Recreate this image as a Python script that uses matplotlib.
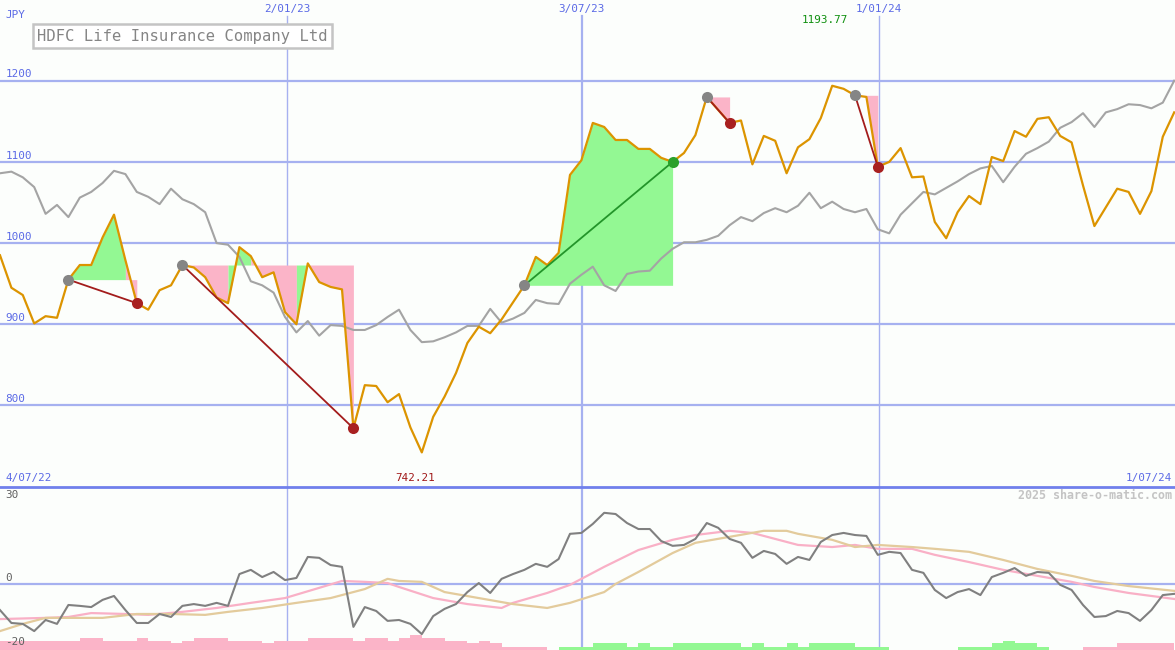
import numpy as np
import matplotlib.pyplot as plt

# weekly closing prices (JPY), one value per week
price = [985, 945, 936, 901, 910, 908, 955, 973, 973, 1007,
         1035, 979, 926, 918, 942, 948, 973, 970, 958, 933,
         926, 995, 984, 958, 964, 915, 900, 975, 952, 946,
         943, 772, 825, 824, 804, 814, 773, 742.21, 786, 811,
         840, 877, 897, 889, 906, 927, 948, 983, 973, 988,
         1084, 1102, 1148, 1143, 1127, 1127, 1116, 1116, 1105, 1100,
         1111, 1133, 1180, 1164, 1148, 1151, 1097, 1132, 1126, 1086,
         1118, 1128, 1154, 1193.77, 1190, 1182, 1180, 1094, 1100, 1117,
         1081, 1082, 1026, 1006, 1038, 1058, 1048, 1106, 1101, 1138,
         1131, 1153, 1155, 1132, 1124, 1071, 1021, 1044, 1067, 1063,
         1036, 1064, 1131, 1161]

# comparison index, rescaled to the price axis
relative = [1086, 1088, 1081, 1069, 1036, 1047, 1032, 1056, 1063, 1074,
            1089, 1085, 1063, 1057, 1048, 1067, 1054, 1048, 1038, 1000,
            998, 983, 953, 948, 939, 909, 890, 904, 886, 899,
            898, 893, 893, 899, 909, 918, 893, 878, 879, 884,
            890, 898, 898, 919, 902, 907, 914, 930, 926, 925,
            950, 961, 971, 948, 941, 962, 965, 966, 981, 993,
            1001, 1001, 1004, 1009, 1022, 1032, 1027, 1037, 1043, 1038,
            1046, 1062, 1043, 1051, 1042, 1038, 1042, 1017, 1012, 1035,
            1049, 1063, 1060, 1068, 1076, 1085, 1092, 1095, 1075, 1094,
            1110, 1117, 1125, 1142, 1149, 1160, 1143, 1161, 1165, 1171,
            1170, 1166, 1173, 1200]

# lower panel: momentum and its two averages
momentum = [-8.8, -13.1, -13.4, -15.8, -12.1, -13.4, -7.1, -7.4, -7.8, -5.4,
            -4.1, -8.8, -13.1, -13.1, -10.1, -11.1, -7.4, -6.8, -7.4, -6.4,
            -7.4, 3.2, 4.6, 2.2, 3.9, 1.2, 1.9, 8.9, 8.6, 6.2,
            5.6, -14.4, -7.8, -9.1, -12.4, -12.1, -13.4, -16.8, -10.8, -8.4,
            -6.8, -2.8, 0.2, -3.1, 1.6, 3.2, 4.6, 6.6, 5.6, 8.2,
            16.6, 16.9, 19.9, 23.6, 23.2, 20.2, 18.2, 18.2, 14.2, 12.6,
            12.9, 14.9, 20.2, 18.6, 14.9, 13.6, 8.6, 10.9, 9.9, 6.6,
            8.9, 7.9, 13.9, 16.2, 16.9, 16.2, 15.9, 9.6, 10.6, 10.2,
            4.6, 3.6, -2.1, -4.8, -2.8, -1.8, -3.8, 2.2, 3.6, 5.2,
            2.6, 3.9, 3.6, -0.4, -2.1, -7.1, -11.1, -10.8, -9.1, -9.8,
            -12.4, -8.8, -3.8, -3.4]

fast_wk = [0, 4, 6, 8, 11, 13, 16, 19, 22, 25, 28, 30, 32, 34, 35, 38, 41, 44, 45, 48,
           50, 53, 56, 59, 61, 64, 66, 70, 73, 75, 77, 80, 82, 85, 88, 91, 94, 96, 99, 103]
fast_ma = [-11.8, -11.4, -11.1, -9.8, -10.1, -10.4, -9.4, -8.1, -6.4, -4.8, -1.4, 0.9, 0.6, 0.2, -1.1,
           -4.8, -6.8, -8.1, -6.4, -3.1, -0.4, 5.6, 11.2, 14.6, 16.2, 17.6, 16.9, 12.9, 12.2, 12.9,
           11.6, 11.6, 9.6, 7.2, 4.6, 2.6, 0.6, -1.1, -3.1, -5.1]

slow_wk = [0, 2, 4, 6, 9, 12, 15, 18, 20, 23, 26, 29, 32, 34, 35, 37, 39, 42, 45, 48, 50,
           53, 54, 56, 59, 61, 64, 67, 69, 70, 73, 75, 77, 80, 82, 85, 88, 91, 94, 96, 99, 103]
slow_ma = [-15.8, -13.4, -11.4, -11.4, -11.4, -10.1, -10.1, -10.4, -9.4, -8.1, -6.4, -4.8, -1.8,
           1.6, 0.9, 0.6, -2.8, -4.8, -6.8, -8.1, -6.4, -2.8, -0.1, 3.9, 10.2, 13.6, 15.6, 17.6,
           17.6, 16.6, 14.6, 12.2, 12.9, 12.2, 11.6, 10.6, 7.9, 4.9, 2.6, 0.9, -0.8, -2.4]

# weekly signal strength bars (negative = pink, positive = green)
bars = [-3] * 7 + [-4] * 2 + [-3] * 3 + [-4] + [-3] * 2 + [-2.3] + [-3] + [-4] * 3 + \
       [-3] * 3 + [-2.3] + [-3] * 3 + [-4] * 4 + [-3] + [-4] * 2 + [-3] + [-4] + [-5] + \
       [-4] * 2 + [-3] * 2 + [-2.3] + [-3] + [-2.3] + [-1] * 4 + [0] + \
       [1] * 3 + [2.3] * 3 + [1] + [2.3] + [1] * 2 + [2.3] * 6 + [1] + [2.3] + [1] * 2 + \
       [2.3] + [1] + [2.3] * 4 + [1] * 3 + [0] * 6 + [1] * 3 + [2.3] + [3] + [2.3] * 2 + \
       [1] + [0] * 3 + [-1] * 3 + [-2.3] * 5

# trend signals: (start week, end week)
signals = [(6, 12), (16, 31), (46, 59), (62, 64), (75, 77)]

date_wk = [25.18, 51.05, 77.1]
date_labels = ['2/01/23', '3/07/23', '1/01/24']
price_ticks = [800, 900, 1000, 1100, 1200]

bg = '#fcfefc'
gridc = '#a6b1f0'
blue = '#5b6ae6'
pink = '#fbb4c8'
green = '#93f893'
fs = 7.9
plt.rcParams['font.family'] = ['DejaVu Sans Mono']

fig = plt.figure(figsize=(11.75, 6.5), dpi=100, facecolor=bg)
ax2 = fig.add_axes([0, 0, 1, 163 / 650], facecolor='none')
ax = fig.add_axes([0, 163 / 650, 1, 487 / 650], facecolor='none')

x = np.arange(len(price))
xmax = 1175 / 11.4
for a in (ax, ax2):
    a.set_xlim(0, xmax)
    a.set_xticks([])
    a.set_yticks([])
    for s in a.spines.values():
        s.set_visible(False)

ax.set_ylim(699.6, 1299.4)
ax2.set_ylim(-22.1, 32.2)

# grid
for v in price_ticks:
    ax.axhline(v, color=gridc, lw=1.6, zorder=1)
    ax.annotate(str(v), (0, v), xytext=(4, 1), textcoords='offset points',
                color=blue, fontsize=fs, va='bottom', ha='left')
for i, (d, lab) in enumerate(zip(date_wk, date_labels)):
    lw = 1.6 if i == 1 else 1.0
    ax.axvline(d, ymax=0.967, color=gridc, lw=lw, zorder=1)
    ax2.axvline(d, color=gridc, lw=lw, zorder=1)
    ax.text(d, 0.982, lab, transform=ax.get_xaxis_transform(), color=blue,
            fontsize=fs, ha='center', va='center')
ax.spines['bottom'].set_visible(True)
ax.spines['bottom'].set_color('#7080ec')
ax.spines['bottom'].set_linewidth(2.0)
ax.spines['bottom'].set_zorder(7)

# signal fills, merged into runs of one colour
for s, e in signals:
    base = price[s]
    cols = [green if price[j + 1] >= base else pink for j in range(s, e)]
    j0 = s
    for j in range(s, e):
        if j == e - 1 or cols[j + 1 - s] != cols[j - s]:
            ax.fill_between(x[j0:j + 2], base, price[j0:j + 2], color=cols[j - s],
                            lw=0, zorder=2)
            j0 = j + 1

ax.plot(x, relative, color='#a4a4a4', lw=1.5, zorder=3)
ax.plot(x, price, color='#dc9400', lw=1.6, zorder=4)

for s, e in signals:
    up = price[e] > price[s]
    lc = '#23952a' if up else '#a31c1c'
    dc = '#2aa02a' if up else '#a82020'
    ax.plot([s, e], [price[s], price[e]], color=lc, lw=1.3, zorder=5)
    ax.plot(s, price[s], 'o', color='#858585', ms=8, mec='none', zorder=6)
    ax.plot(e, price[e], 'o', color=dc, ms=8, mec='none', zorder=6)

# min / max labels
imin = int(np.argmin(price))
imax = int(np.argmax(price))
ax.text(imin - 0.6, 0.018, f'{price[imin]:.2f}', transform=ax.get_xaxis_transform(),
        color='#a01818', fontsize=fs, ha='center', va='center')
ax.text(imax - 0.6, 0.958, f'{price[imax]:.2f}', transform=ax.get_xaxis_transform(),
        color='#109010', fontsize=fs, ha='center', va='center')

ax.text(5 / 1175, 0.969, 'JPY', transform=ax.transAxes, color=blue, fontsize=fs, va='center')
ax.text(5 / 1175, 0.018, '4/07/22', transform=ax.transAxes, color=blue, fontsize=fs, va='center')
ax.text(1172 / 1175, 0.018, '1/07/24', transform=ax.transAxes, color=blue, fontsize=fs,
        va='center', ha='right')
ax.text(37 / 1175, (487 - 36) / 487, 'HDFC Life Insurance Company Ltd', transform=ax.transAxes,
        color='#858585', fontsize=11.2, va='center', ha='left',
        bbox=dict(boxstyle='square,pad=0.26', fc='white', ec='#c4c4c4', lw=1.8), zorder=8)

# lower panel
ax2.axhline(0, color=gridc, lw=1.6, zorder=1)
bar_cols = [pink if b < 0 else green for b in bars]
ax2.bar(np.arange(len(bars)), np.abs(bars), width=1.0, align='edge', bottom=-22.1,
        color=bar_cols, lw=0, zorder=2)
ax2.plot(fast_wk, fast_ma, color='#f9b0c6', lw=1.6, zorder=3)
ax2.plot(slow_wk, slow_ma, color='#e3cb9c', lw=1.6, zorder=3)
ax2.plot(x, momentum, color='#808080', lw=1.5, zorder=4)

for v, yy in ((30, 29.5), (0, 2.0), (-20, -19.6)):
    ax2.text(5 / 1175, yy, str(v), transform=ax2.get_yaxis_transform(), color='#606060',
             fontsize=fs, va='center', zorder=5)
ax2.text(1172 / 1175, 0.945, '2025 share-o-matic.com', transform=ax2.transAxes,
         color='#c4c4c4', fontsize=8.4, fontweight='bold', ha='right', va='center')

fig.savefig('out.png', dpi=100, facecolor=bg)
